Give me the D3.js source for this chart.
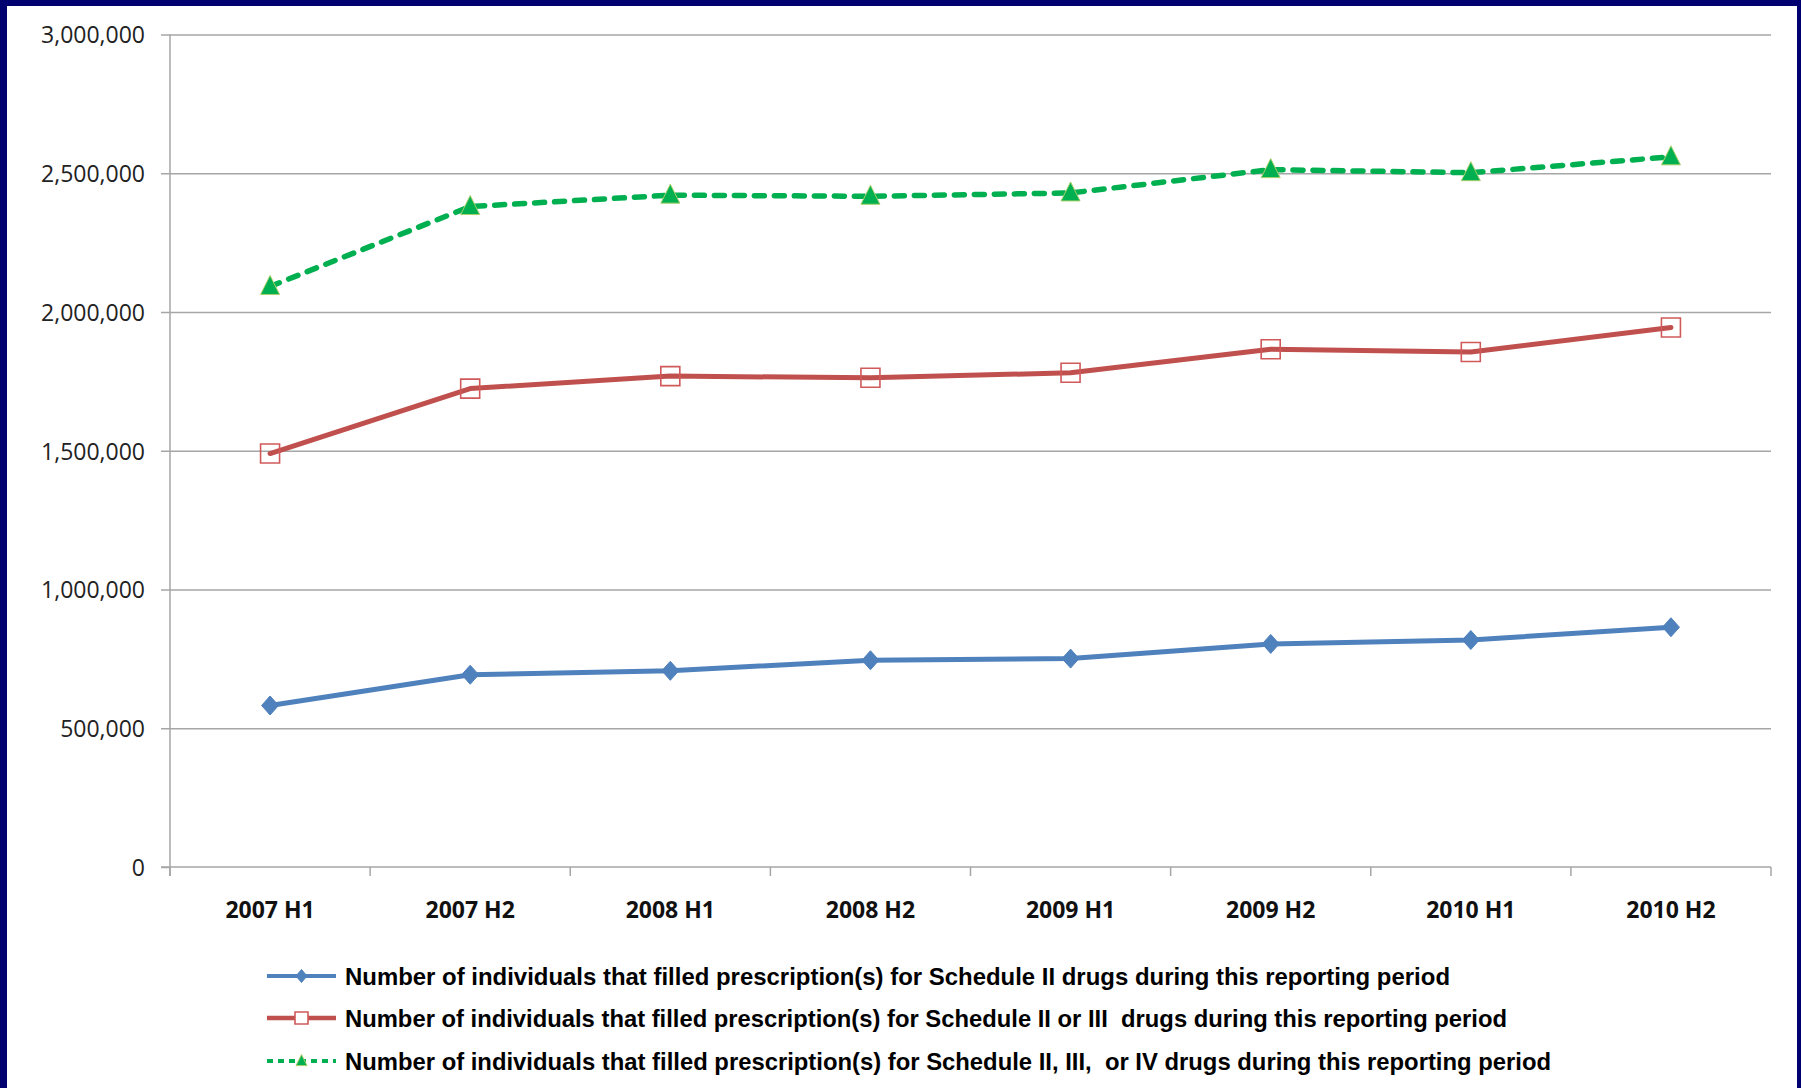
<!DOCTYPE html>
<html>
<head>
<meta charset="utf-8">
<script src="https://cdn.jsdelivr.net/npm/d3@7"></script>
<style>
  html, body { margin: 0; padding: 0; background: #000070; }
  svg { display: block; }
</style>
</head>
<body>
<svg id="chart" width="1801" height="1088"></svg>
<script>
// ---- data ----
const categories = ["2007 H1", "2007 H2", "2008 H1", "2008 H2", "2009 H1", "2009 H2", "2010 H1", "2010 H2"];
const scheduleII = [582000, 693000, 707000, 745000, 751000, 804000, 818000, 864000];
const scheduleIIorIII = [1490000, 1724000, 1769000, 1763000, 1781000, 1866000, 1856000, 1944000];
const scheduleIItoIV = [2092000, 2380000, 2421000, 2417000, 2429000, 2513000, 2502000, 2559000];
const yTicks = [0, 500000, 1000000, 1500000, 2000000, 2500000, 3000000];
const seriesNames = [
  "Number of individuals that filled prescription(s) for Schedule II drugs during this reporting period",
  "Number of individuals that filled prescription(s) for Schedule II or III  drugs during this reporting period",
  "Number of individuals that filled prescription(s) for Schedule II, III,  or IV drugs during this reporting period"
];

// ---- layout ----
const svg = d3.select("#chart");
const W = 1801, H = 1088;
const plot = { left: 170, right: 1771, top: 34.5, bottom: 867 };

svg.append("rect").attr("x", 0).attr("y", 0).attr("width", W).attr("height", H).attr("fill", "#000070");
svg.append("rect").attr("x", 7).attr("y", 6).attr("width", 1790).attr("height", H - 6).attr("fill", "#ffffff");

const x = d3.scaleBand().domain(categories).range([plot.left, plot.right]).paddingInner(0).paddingOuter(0);
const y = d3.scaleLinear().domain([0, 3000000]).range([plot.bottom, plot.top]);
const cx = c => x(c) + x.bandwidth() / 2;

const gridColor = "#a6a6a6";

// gridlines
const grid = svg.append("g").attr("transform", `translate(${plot.left},0)`)
  .call(d3.axisLeft(y).tickValues(yTicks.filter(v => v > 0)).tickSize(-(plot.right - plot.left)).tickFormat(""));
grid.select(".domain").remove();
grid.selectAll("line").attr("stroke", gridColor).attr("stroke-width", 1.5);

// y axis
const yAxis = svg.append("g").attr("transform", `translate(${plot.left},0)`)
  .call(d3.axisLeft(y).tickValues(yTicks).tickSize(9).tickPadding(16).tickFormat(d3.format(",")));
yAxis.select(".domain").attr("stroke", gridColor).attr("stroke-width", 1.5)
  .attr("d", `M0,${plot.top}V${plot.bottom + 9}`);
yAxis.selectAll("line").attr("stroke", gridColor).attr("stroke-width", 1.5);
yAxis.selectAll("text")
  .attr("font-family", "'Open Sans', sans-serif")
  .attr("font-size", 23)
  .attr("fill", "#222")
  .attr("dy", "0.36em");

// x axis
const xAxis = svg.append("g").attr("transform", `translate(0,${plot.bottom})`)
  .call(d3.axisBottom(x).tickSize(0).tickPadding(0));
xAxis.select(".domain").attr("stroke", gridColor).attr("stroke-width", 1.5)
  .attr("d", `M${plot.left - 9},0H${plot.right}`);
xAxis.selectAll("text")
  .attr("y", 51).attr("dy", 0)
  .attr("font-family", "'Open Sans', sans-serif")
  .attr("font-weight", "bold")
  .attr("font-size", 23)
  .attr("fill", "#111");
// boundary tick marks
const boundaries = categories.map(c => x(c)).concat([x(categories[categories.length - 1]) + x.bandwidth()]);
xAxis.selectAll(".bt").data(boundaries).enter().append("line")
  .attr("x1", d => d).attr("x2", d => d).attr("y1", 0).attr("y2", 9)
  .attr("stroke", gridColor).attr("stroke-width", 1.5);

// ---- marker shapes ----
function diamondPath(w, h) { return `M0,${-h/2}L${w/2},0L0,${h/2}L${-w/2},0Z`; }
function squarePath(w, h) { return `M${-w/2},${-h/2}h${w}v${h}h${-w}Z`; }
function trianglePath(w, h) { return `M0,${-h*0.58}L${w/2},${h*0.42}L${-w/2},${h*0.42}Z`; }

const series = [
  { values: scheduleII, color: "#4f81bd", width: 5, dash: null, cap: "round",
    marker: diamondPath(17, 19), mFill: "#4f81bd", mStroke: "#4f81bd", mSW: 1,
    lMarker: diamondPath(11, 13), lDash: null, lWidth: 4 },
  { values: scheduleIIorIII, color: "#c0504d", width: 5, dash: null, cap: "round",
    marker: squarePath(19, 19), mFill: "none", mStroke: "#d0595a", mSW: 1.6,
    lMarker: squarePath(13, 12), lDash: null, lWidth: 4.5 },
  { values: scheduleIItoIV, color: "#00b050", width: 5.5, dash: "10,10", cap: "round",
    marker: trianglePath(19, 19), mFill: "#00b050", mStroke: "#a8cf6a", mSW: 1,
    lMarker: trianglePath(11, 11), lDash: "6,5", lWidth: 4 }
];

const line = d3.line().x((d, i) => cx(categories[i])).y(d => y(d));

series.forEach(s => {
  svg.append("path").datum(s.values)
    .attr("d", line)
    .attr("fill", "none")
    .attr("stroke", s.color)
    .attr("stroke-width", s.width)
    .attr("stroke-linejoin", "round")
    .attr("stroke-linecap", s.cap)
    .attr("stroke-dasharray", s.dash);
  svg.append("g").selectAll("path").data(s.values).enter().append("path")
    .attr("transform", (d, i) => `translate(${cx(categories[i])},${y(d)})`)
    .attr("d", s.marker)
    .attr("fill", s.mFill)
    .attr("stroke", s.mStroke)
    .attr("stroke-width", s.mSW);
});

// ---- legend ----
const legendX = 267, legendLineW = 69, legendTextX = 345;
const legendRowY = [976, 1018, 1061];
const legendTextEnd = [1450, 1507, 1551];
series.forEach((s, i) => {
  const g = svg.append("g").attr("transform", `translate(0,${legendRowY[i]})`);
  g.append("line").attr("x1", legendX).attr("x2", legendX + legendLineW).attr("y1", 0).attr("y2", 0)
    .attr("stroke", s.color).attr("stroke-width", s.lWidth).attr("stroke-dasharray", s.lDash);
  g.append("path").attr("transform", `translate(${legendX + legendLineW / 2},0)`)
    .attr("d", s.lMarker)
    .attr("fill", s.mFill === "none" ? "#ffffff" : s.mFill)
    .attr("stroke", s.mStroke).attr("stroke-width", s.mSW);
  g.append("text").attr("x", legendTextX).attr("y", 8.5)
    .attr("font-family", "'Liberation Sans', Arial, sans-serif")
    .attr("font-weight", "bold")
    .attr("font-size", 24.5)
    .attr("fill", "#000")
    .attr("xml:space", "preserve")
    .style("white-space", "pre")
    .attr("textLength", legendTextEnd[i] - legendTextX)
    .attr("lengthAdjust", "spacingAndGlyphs")
    .text(seriesNames[i]);
});
</script>
</body>
</html>
